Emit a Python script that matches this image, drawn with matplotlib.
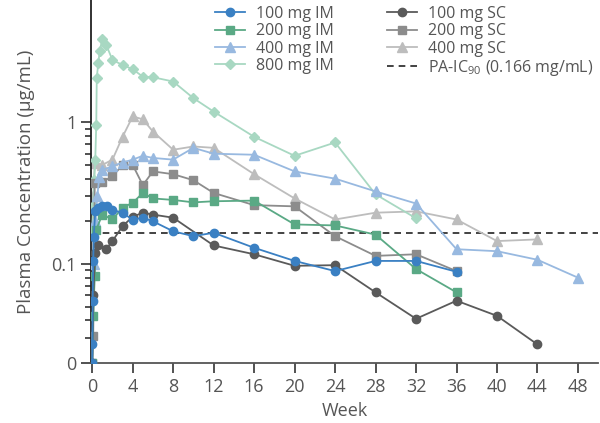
import matplotlib
matplotlib.use("Agg")
import matplotlib.pyplot as plt
from matplotlib.ticker import FixedLocator, NullFormatter

plt.rcParams['font.family'] = ['Open Sans', 'DejaVu Sans']
plt.rcParams['mathtext.default'] = 'regular'

# data (weeks, ug/mL); bottom "0" drawn at 0.02
wk_100im = [0, 0.02, 0.05, 0.1, 0.15, 0.3, 0.6, 1, 1.5, 2, 3, 4, 5, 6, 8, 10, 12, 16, 20, 24, 28, 32, 36]
c_100im = [0.02, 0.027, 0.055, 0.105, 0.155, 0.235, 0.25, 0.255, 0.255, 0.24, 0.23, 0.205, 0.212, 0.2,
           0.17, 0.157, 0.166, 0.13, 0.105, 0.089, 0.105, 0.105, 0.088]

wk_200im = [0, 0.1, 0.25, 0.4, 1, 2, 3, 4, 5, 6, 8, 10, 12, 16, 20, 24, 28, 32, 36]
c_200im = [0.02, 0.043, 0.082, 0.175, 0.223, 0.206, 0.25, 0.27, 0.317, 0.29, 0.283, 0.272, 0.277, 0.28,
           0.19, 0.187, 0.161, 0.092, 0.063]

wk_400im = [0, 0.15, 0.3, 0.5, 0.7, 1, 2, 3, 4, 5, 6, 8, 10, 12, 16, 20, 24, 28, 32, 36, 40, 44, 48]
c_400im = [0.02, 0.1, 0.2, 0.3, 0.41, 0.46, 0.49, 0.52, 0.545, 0.58, 0.56, 0.545, 0.66, 0.6, 0.59,
           0.45, 0.40, 0.325, 0.267, 0.127, 0.123, 0.107, 0.08]

wk_800im = [0, 0.1, 0.2, 0.3, 0.4, 0.45, 0.6, 0.75, 1, 1.4, 2, 3, 4, 5, 6, 8, 10, 12, 16, 20, 24, 28, 32]
c_800im = [0.175, 0.255, 0.39, 0.54, 0.96, 2.06, 2.62, 3.2, 3.9, 3.5, 2.75, 2.54, 2.37, 2.1, 2.08, 1.94,
           1.48, 1.19, 0.79, 0.58, 0.72, 0.31, 0.21]

wk_100sc = [0, 0.1, 0.3, 0.6, 1.4, 2, 3, 4, 5, 6, 8, 12, 16, 20, 24, 28, 32, 36, 40, 44]
c_100sc = [0.02, 0.06, 0.12, 0.135, 0.128, 0.145, 0.185, 0.215, 0.23, 0.223, 0.212, 0.135, 0.117,
           0.097, 0.098, 0.063, 0.041, 0.055, 0.043, 0.027]

wk_200sc = [0, 0.1, 0.25, 1, 2, 3, 4, 5, 6, 8, 10, 12, 16, 20, 24, 28, 32, 36]
c_200sc = [0.02, 0.031, 0.375, 0.38, 0.415, 0.50, 0.50, 0.36, 0.45, 0.43, 0.39, 0.317, 0.26, 0.255,
           0.157, 0.114, 0.117, 0.089]

wk_400sc = [0, 0.1, 0.25, 1, 2, 3, 4, 5, 6, 8, 10, 12, 16, 20, 24, 28, 32, 36, 40, 44]
c_400sc = [0.02, 0.3, 0.52, 0.5, 0.545, 0.79, 1.1, 1.05, 0.86, 0.64, 0.675, 0.66, 0.43, 0.29, 0.206,
           0.23, 0.235, 0.206, 0.145, 0.149]

ic90 = 0.166

fig = plt.figure(figsize=(6, 4.23), dpi=100)
ax = fig.add_axes([0.152, 0.142, 0.845, 0.858])

ms = 6
lw = 1.3
l1, = ax.plot(wk_100im, c_100im, '-o', color='#3a80c3', ms=ms, lw=lw, label='100 mg IM', zorder=8)
l2, = ax.plot(wk_200im, c_200im, '-s', color='#5aa985', ms=ms, lw=lw, label='200 mg IM', zorder=6)
l3, = ax.plot(wk_400im, c_400im, '-^', color='#98b9e0', ms=ms + 0.5, lw=lw, label='400 mg IM', zorder=5)
l4, = ax.plot(wk_800im, c_800im, '-D', color='#a8d8c2', ms=ms - 0.5, lw=lw, label='800 mg IM', zorder=3)
l5, = ax.plot(wk_100sc, c_100sc, '-o', color='#5a5a5a', ms=ms, lw=lw, label='100 mg SC', zorder=7)
l6, = ax.plot(wk_200sc, c_200sc, '-s', color='#8c8c8c', ms=ms, lw=lw, label='200 mg SC', zorder=4)
l7, = ax.plot(wk_400sc, c_400sc, '-^', color='#bdbdbd', ms=ms + 0.5, lw=lw, label='400 mg SC', zorder=2)
l8 = ax.axhline(ic90, color='#222222', ls=(0, (4, 3)), lw=1.2, label='PA-IC$_{90}$ (0.166 mg/mL)', zorder=1)

ax.set_yscale('log')
ax.set_ylim(0.02, 7.3)
ax.set_xlim(-0.1, 50)

ax.yaxis.set_major_locator(FixedLocator([0.02, 0.1, 1]))
ax.set_yticklabels(['0', '0.1', '1'])
minors = [0.03, 0.04, 0.05, 0.06, 0.07, 0.08, 0.09, 0.2, 0.3, 0.4, 0.5, 0.6, 0.7, 0.8, 0.9]
ax.yaxis.set_minor_locator(FixedLocator(minors))
ax.yaxis.set_minor_formatter(NullFormatter())

ax.set_xticks(range(0, 49, 4))

for s in ['top', 'right']:
    ax.spines[s].set_visible(False)
ax.spines['left'].set_color('#222222')
ax.spines['bottom'].set_color('#555555')
ax.spines['left'].set_linewidth(1.3)
ax.spines['bottom'].set_linewidth(1.3)

ax.tick_params(axis='both', which='major', length=7, width=1.2, colors='#333333',
               labelcolor='#555555', labelsize=13)
ax.tick_params(axis='y', which='minor', length=4, width=1.2, colors='#333333')

ax.set_xlabel('Week', fontsize=13, color='#555555', labelpad=5)
ax.set_ylabel('Plasma Concentration (\u03bcg/mL)', fontsize=13.5, color='#555555', labelpad=12)

leg = ax.legend(handles=[l1, l2, l3, l4, l5, l6, l7, l8], ncol=2, loc='upper left',
                bbox_to_anchor=(0.225, 1.01), frameon=False, fontsize=11.5, labelcolor='#555555',
                handlelength=1.9, handletextpad=0.7, columnspacing=3.3, labelspacing=0.08,
                borderaxespad=0.2)

fig.savefig('out.png', dpi=100)
